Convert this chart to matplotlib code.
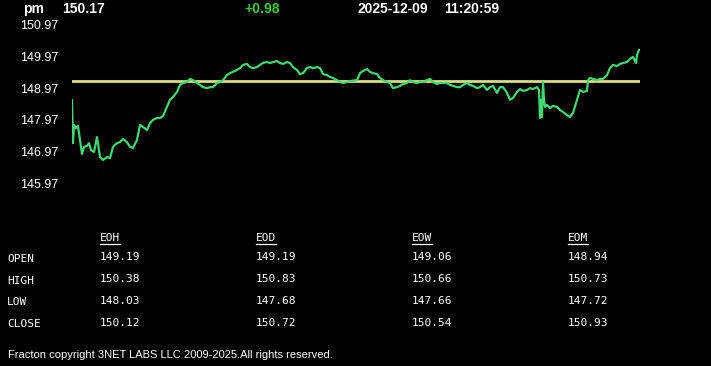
import matplotlib
matplotlib.use('Agg')
import matplotlib.pyplot as plt
from matplotlib.lines import Line2D

# Datos de la serie (minutos desde el inicio y precio)
minutos = [
    0, 1, 2, 4, 6, 8, 10, 12, 15, 17,
    19, 22, 25, 28, 31, 35, 38, 41, 45, 48,
    51, 55, 58, 61, 65, 68, 71, 75, 78, 81,
    85, 88, 91, 95, 98, 101, 105, 108, 111, 115,
    118, 121, 125, 128, 131, 135, 138, 141, 145, 148,
    151, 155, 158, 161, 165, 168, 171, 175, 178, 181,
    185, 188, 191, 195, 198, 201, 205, 208, 211, 215,
    218, 221, 225, 228, 231, 235, 238, 241, 245, 248,
    251, 255, 258, 261, 265, 268, 271, 275, 278, 285,
    288, 291, 295, 298, 301, 305, 308, 311, 315, 318,
    321, 325, 328, 331, 335, 338, 341, 345, 348, 351,
    355, 358, 361, 365, 368, 371, 375, 378, 381, 385,
    388, 391, 395, 398, 401, 405, 408, 411, 415, 418,
    421, 425, 428, 431, 435, 438, 441, 445, 448, 451,
    455, 458, 461, 465, 467, 468, 469, 470, 471, 472,
    473, 475, 478, 481, 485, 488, 491, 495, 498, 501,
    505, 508, 511, 515, 516, 518, 521, 525, 528, 531,
    535, 538, 541, 545, 548, 551, 555, 558, 561, 564,
    565, 567,
]
precios = [
    148.60, 147.24, 147.81, 147.71, 147.78, 147.34, 146.90, 147.12, 147.15, 147.24,
    147.02, 146.96, 147.43, 146.80, 146.71, 146.80, 146.77, 147.12, 147.24, 147.27,
    147.37, 147.27, 147.12, 147.09, 147.34, 147.81, 147.75, 147.65, 147.87, 147.97,
    148.03, 148.03, 148.09, 148.38, 148.60, 148.69, 148.85, 149.07, 149.13, 149.16,
    149.26, 149.22, 149.13, 149.07, 149.00, 148.97, 149.00, 149.00, 149.13, 149.16,
    149.22, 149.38, 149.44, 149.48, 149.54, 149.60, 149.70, 149.73, 149.63, 149.60,
    149.63, 149.70, 149.76, 149.79, 149.76, 149.79, 149.82, 149.76, 149.73, 149.79,
    149.76, 149.63, 149.54, 149.41, 149.44, 149.60, 149.63, 149.60, 149.63, 149.60,
    149.41, 149.38, 149.32, 149.29, 149.22, 149.16, 149.13, 149.16, 149.19, 149.22,
    149.44, 149.51, 149.57, 149.48, 149.44, 149.41, 149.29, 149.22, 149.16, 149.13,
    148.97, 149.00, 149.04, 149.10, 149.13, 149.22, 149.16, 149.13, 149.16, 149.16,
    149.22, 149.26, 149.16, 149.10, 149.13, 149.13, 149.13, 149.07, 149.04, 149.00,
    149.00, 149.07, 149.13, 149.07, 149.04, 148.97, 149.00, 149.07, 148.91, 149.00,
    149.04, 148.82, 149.00, 149.00, 148.82, 148.60, 148.66, 148.85, 148.94, 148.88,
    148.91, 148.97, 148.94, 149.00, 148.91, 148.03, 148.60, 148.06, 149.16, 148.60,
    148.38, 148.44, 148.34, 148.41, 148.38, 148.28, 148.22, 148.12, 148.06, 148.19,
    148.60, 148.91, 148.85, 148.88, 149.22, 149.29, 149.26, 149.22, 149.26, 149.26,
    149.38, 149.60, 149.70, 149.66, 149.73, 149.76, 149.79, 149.89, 149.95, 149.76,
    150.01, 150.17,
]
apertura = 149.19
ticks_y = [145.97, 146.97, 147.97, 148.97, 149.97, 150.97]

# Tabla de resumen
periodos = ['EOH', 'EOD', 'EOW', 'EOM']
filas = ['OPEN', 'HIGH', 'LOW', 'CLOSE']
valores_eoh = ['149.19', '150.38', '148.03', '150.12']
valores_eod = ['149.19', '150.83', '147.68', '150.72']
valores_eow = ['149.06', '150.66', '147.66', '150.54']
valores_eom = ['148.94', '150.73', '147.72', '150.93']

W, H = 711, 366


def fx(px):
    return px / W


def fy(py):
    return 1 - py / H


fig = plt.figure(figsize=(W / 100, H / 100), dpi=100, facecolor='black')
ax = fig.add_axes([fx(72), fy(183.5), fx(640) - fx(72), fy(24.5) - fy(183.5)])
ax.set_facecolor('black')

ax.axhline(apertura, color='#d6df7e', linewidth=2)
ax.plot(minutos, precios, color='#3fd874', linewidth=1.6)

ax.set_xlim(0, 568)
ax.set_ylim(145.97, 150.97)
ax.set_xticks([])
ax.set_yticks(ticks_y)
ax.set_yticklabels([f'{t:.2f}' for t in ticks_y], family='Liberation Sans', fontsize=9, color='white')
ax.tick_params(axis='y', length=0, pad=10)
for s in ax.spines.values():
    s.set_visible(False)

# Cabecera
cab = dict(family='Liberation Sans', fontsize=10, fontweight='bold', va='center', color='white')
fig.text(fx(23), fy(9), 'pm', **cab)
fig.text(fx(62), fy(9), '150.17', **cab)
fig.text(fx(244), fy(9), '+0.98', **{**cab, 'color': '#3cc83c'})
fig.text(fx(357), fy(9), '2025-12-09', **cab)
fig.text(fx(444), fy(9), '11:20:59', **cab)

# Tabla
mono = dict(family='DejaVu Sans Mono', fontsize=8, color='white', va='center')
col_x = [100, 256, 412, 568]
fila_y = [259, 281, 302, 324]
columnas = [valores_eoh, valores_eod, valores_eow, valores_eom]

fig.canvas.draw()
renderer = fig.canvas.get_renderer()
for periodo, x, vals in zip(periodos, col_x, columnas):
    t = fig.text(fx(x), fy(238), periodo, **mono)
    bb = t.get_window_extent(renderer)
    fig.add_artist(Line2D([fx(x), fx(x) + bb.width / W], [fy(244), fy(244)],
                          color='white', linewidth=0.9, transform=fig.transFigure))
    for v, y in zip(vals, fila_y):
        fig.text(fx(x), fy(y - 1.5), v, **mono)

for nombre, y in zip(filas, fila_y):
    fig.text(fx(7), fy(y), nombre, **mono)

fig.text(fx(8), fy(355), 'Fracton copyright 3NET LABS LLC 2009-2025.All rights reserved.',
         family='Liberation Sans', fontsize=8, color='white', va='center')

plt.savefig('out.png', dpi=100, facecolor='black')
